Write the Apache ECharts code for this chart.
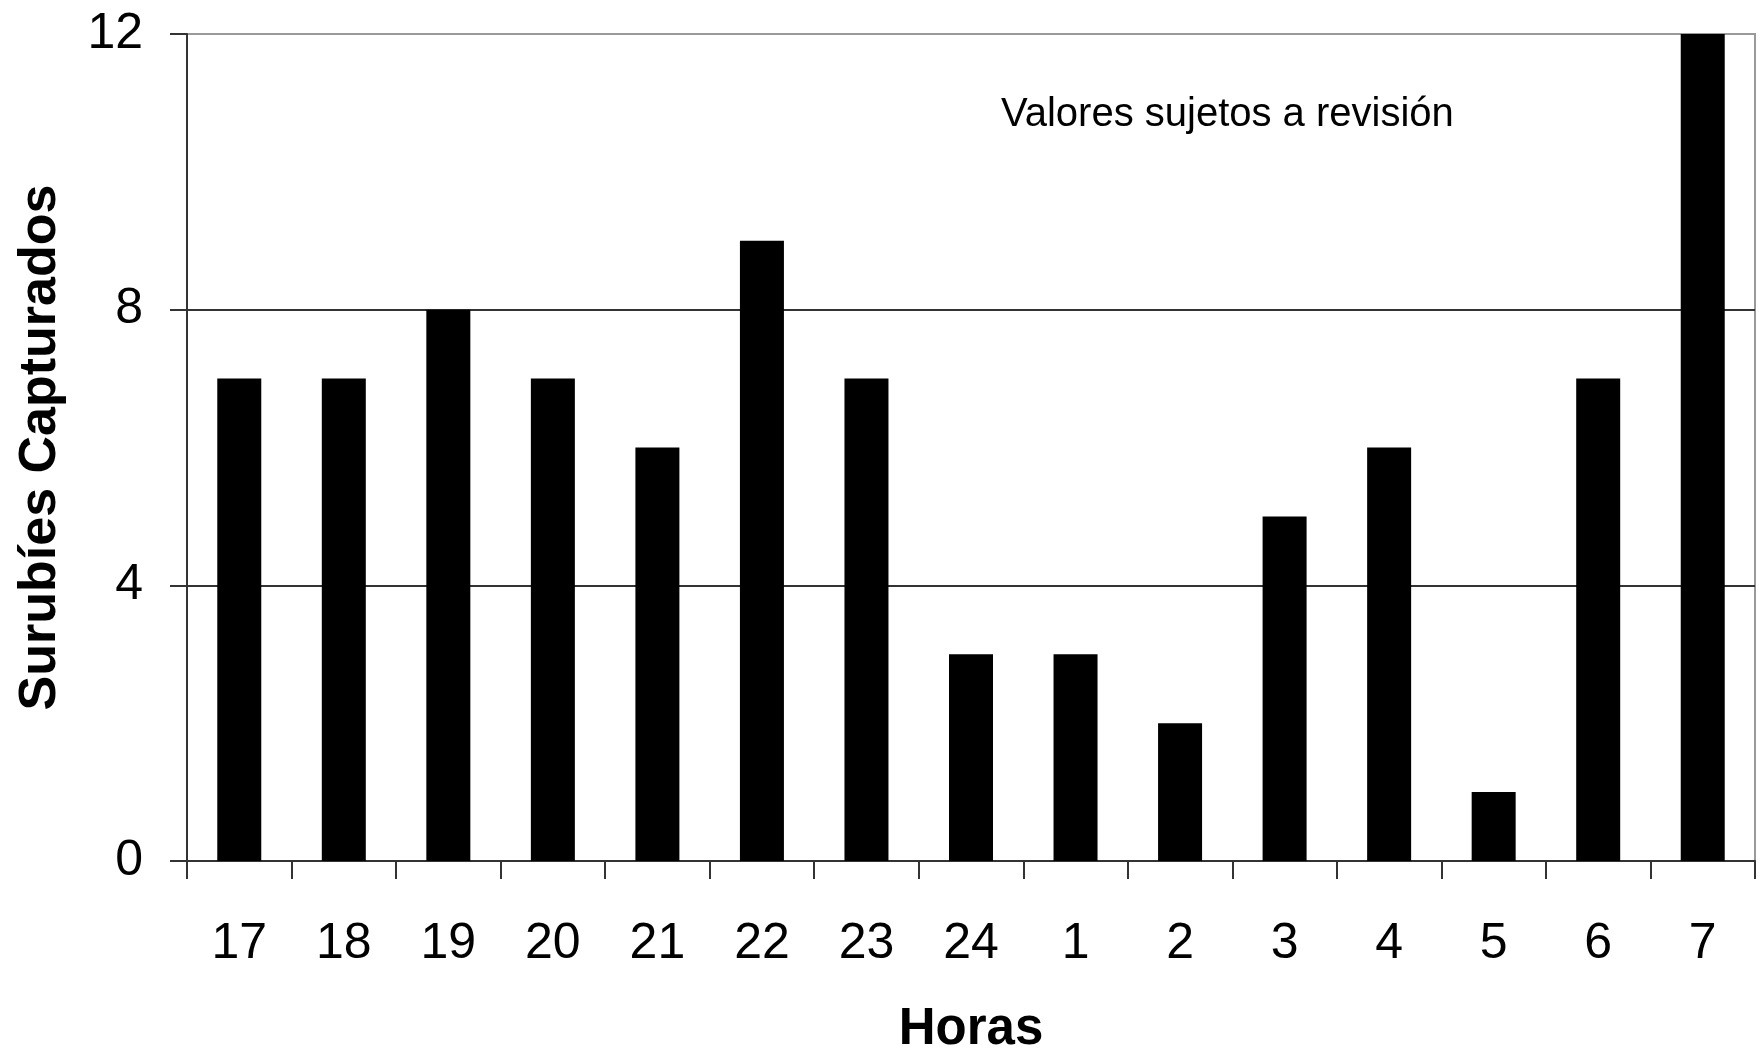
<!DOCTYPE html>
<html>
<head>
<meta charset="utf-8">
<script src="https://cdn.jsdelivr.net/npm/echarts@6/dist/echarts.min.js"></script>
<style>
  html, body { margin: 0; padding: 0; background: #fff; }
  #chart { width: 1759px; height: 1054px; }
</style>
</head>
<body>
<div id="chart"></div>
<script>
// ── datos ─────────────────────────────
const horas = ["17", "18", "19", "20", "21", "22", "23", "24", "1", "2", "3", "4", "5", "6", "7"];
const capturados = [7, 7, 8, 7, 6, 9, 7, 3, 3, 2, 5, 6, 1, 7, 12];
const yTicks = [0, 4, 8, 12];
const nota = "Valores sujetos a revisión";

const FONT = "'Liberation Sans', Arial, sans-serif";

const chart = echarts.init(document.getElementById("chart"));

chart.setOption({
  backgroundColor: "#fff",
  animation: false,
  grid: {
    left: 187, top: 34, right: 4, bottom: 193,
    outerBoundsMode: "none",
    containLabel: false,
    show: true, borderColor: "#9a9a9a", borderWidth: 2, backgroundColor: "transparent",
  },
  xAxis: {
    type: "category",
    data: horas,
    name: "Horas",
    nameLocation: "middle",
    nameGap: 143,
    nameTextStyle: { color: "#000", fontFamily: FONT, fontSize: 51, fontWeight: "bold" },
    axisLine: { lineStyle: { color: "#333", width: 2 } },
    axisTick: { show: true, alignWithLabel: false, length: 18, lineStyle: { color: "#333", width: 2 } },
    axisLabel: { color: "#000", fontFamily: FONT, fontSize: 50, margin: 58 },
  },
  yAxis: {
    type: "value",
    min: yTicks[0],
    max: yTicks[yTicks.length - 1],
    interval: 4,
    name: "Surubíes Capturados",
    nameLocation: "middle",
    nameGap: 120,
    nameTextStyle: { color: "#000", fontFamily: FONT, fontSize: 52, fontWeight: "bold" },
    axisLine: { show: true, lineStyle: { color: "#333", width: 2 } },
    axisTick: { show: true, length: 17, lineStyle: { color: "#333", width: 2 } },
    axisLabel: { color: "#000", fontFamily: FONT, fontSize: 50, margin: 44 },
    splitLine: { lineStyle: { color: ["#333", "#333", "#333", "#9a9a9a"], width: 2 } },
  },
  series: [{
    type: "bar",
    data: capturados,
    barWidth: 44,
    itemStyle: { color: "#000" },
  }],
  graphic: [{
    type: "text",
    x: 1001, y: 115,
    style: {
      text: nota,
      fill: "#000",
      font: "40px " + FONT,
      verticalAlign: "middle",
    },
  }],
});
</script>
</body>
</html>
